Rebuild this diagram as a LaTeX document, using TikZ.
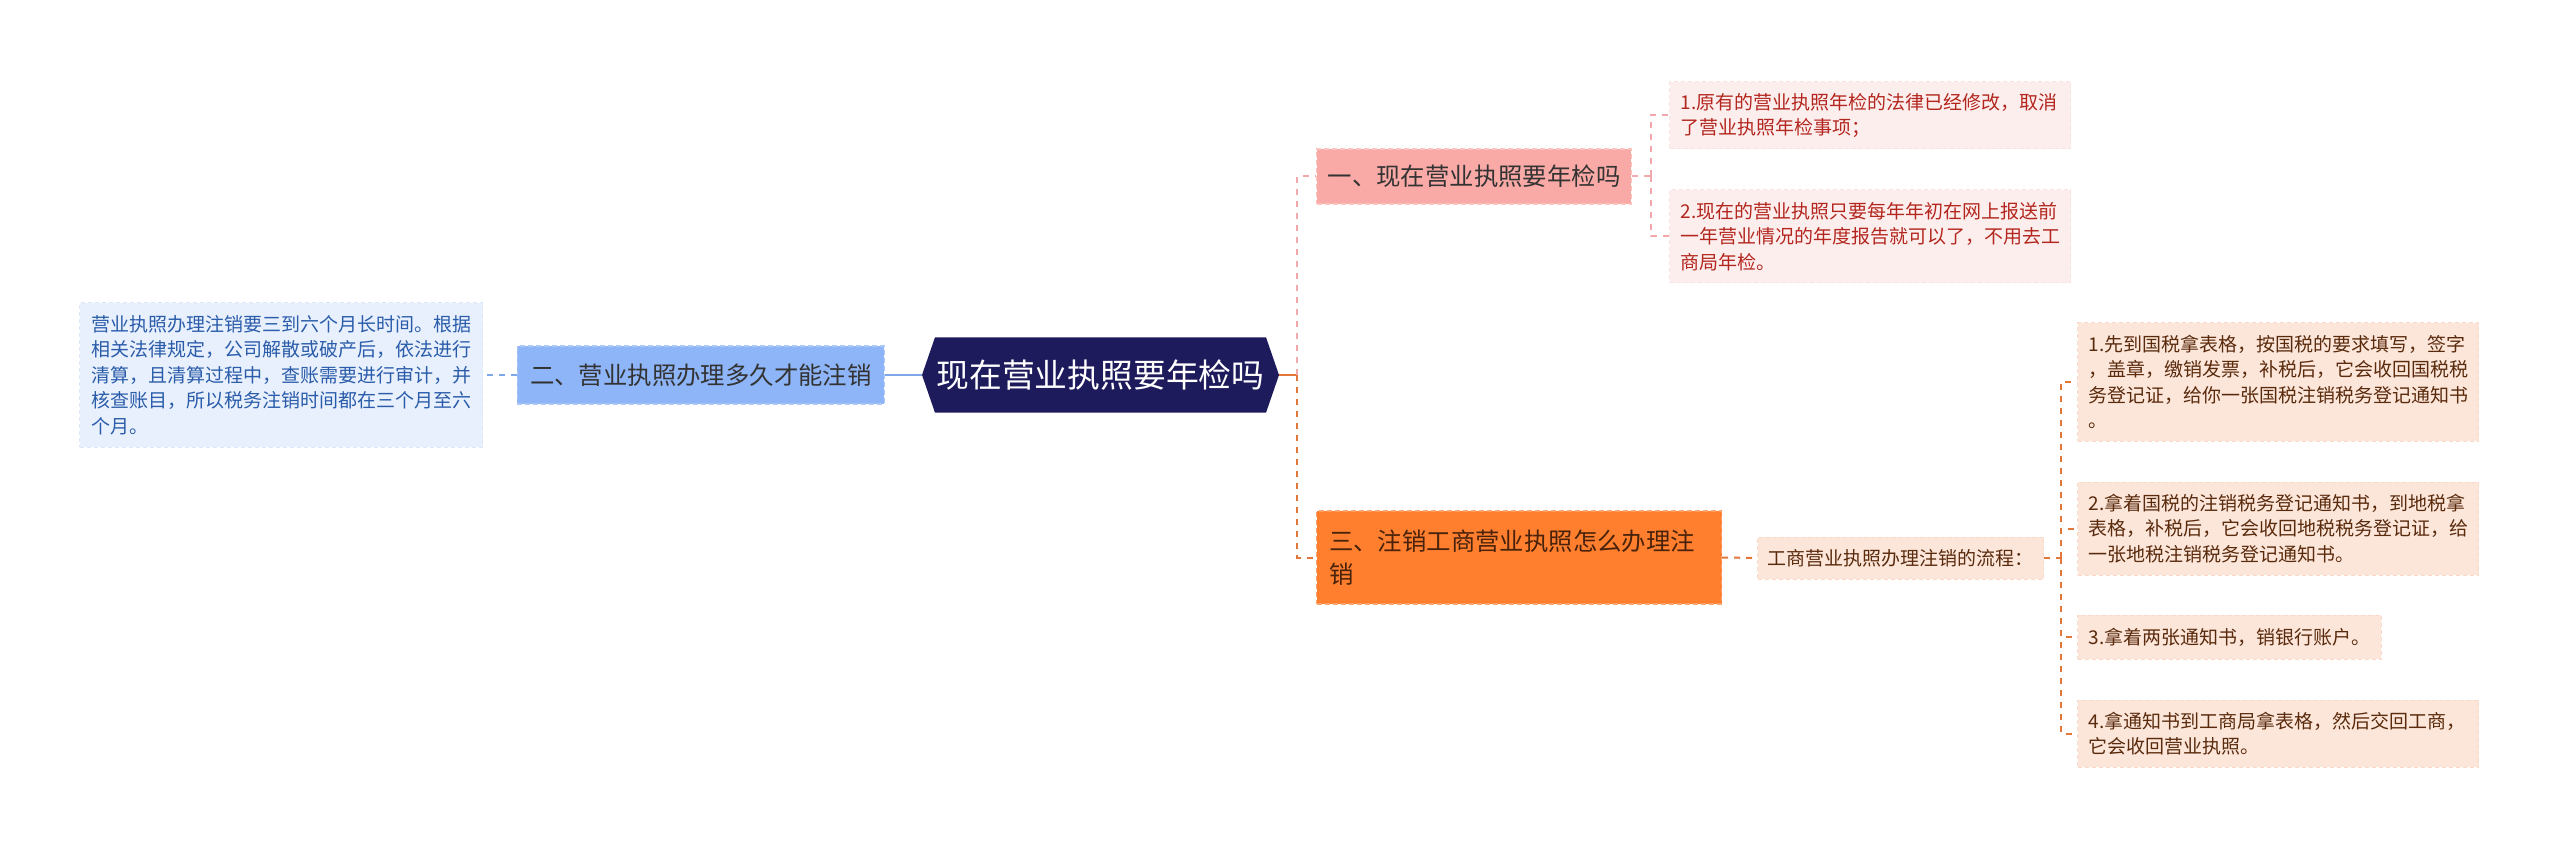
\documentclass[tikz,border=0pt]{standalone}
\usepackage{fontspec}
\setmainfont{Noto Sans CJK SC}
\usetikzlibrary{positioning,calc,shapes.symbols}
\definecolor{RootFill}{HTML}{1E1B5C}
\definecolor{TopicText}{HTML}{333333}
\definecolor{PinkTopic}{HTML}{F9AAA6}
\definecolor{PinkEdge}{HTML}{FBC4C1}
\definecolor{PinkLeaf}{HTML}{FDEEEE}
\definecolor{PinkLeafEdge}{HTML}{FBE2E2}
\definecolor{PinkText}{HTML}{B3261E}
\definecolor{PinkLink}{HTML}{F2A9AC}
\definecolor{BlueTopic}{HTML}{8EB5F8}
\definecolor{BlueEdge}{HTML}{ADC9F8}
\definecolor{BlueLeaf}{HTML}{E8F0FD}
\definecolor{BlueLeafEdge}{HTML}{DCE7FA}
\definecolor{BlueText}{HTML}{2A5CAA}
\definecolor{BlueLink}{HTML}{7FA6E8}
\definecolor{OrangeTopic}{HTML}{FF7F2F}
\definecolor{OrangeEdge}{HTML}{FBA56C}
\definecolor{OrangeLeaf}{HTML}{FCE6DA}
\definecolor{OrangeLeafEdge}{HTML}{F9DACA}
\definecolor{OrangeText}{HTML}{5A2A0C}
\definecolor{OrangeLink}{HTML}{E2773A}
\tikzset{root/.style={signal,signal to=east and west,signal pointer angle=142,
 fill=RootFill,text=white,font=\fontsize{16.4}{20}\selectfont,minimum width=178.5pt,
 minimum height=37.5pt,inner sep=0pt},
 topic/.style={draw,dash pattern=on 2.5pt off 1.5pt,line width=.6pt,text=TopicText,
 font=\fontsize{12.2}{16.5}\selectfont,inner xsep=5.5pt,align=left},
 leaf/.style={draw,dash pattern=on 2pt off 1.5pt,line width=.5pt,
 font=\fontsize{9.5}{12.75}\selectfont,inner xsep=5.5pt,inner ysep=0pt,align=left},
 link/.style={line width=1pt,dash pattern=on 3pt off 3pt}}
\begin{document}
\begin{tikzpicture}[x=1pt,y=1pt]
\useasboundingbox (0,0) rectangle (1280,-425);
% centre
\node[root] (root) at (550.25,-187.5) {现在营业执照要年检吗};
% topic one
\node[topic,fill=PinkTopic,draw=PinkEdge,minimum width=157pt,minimum height=27.5pt,anchor=west] (yearCheck) at (658,-88.25) {一、现在营业执照要年检吗};
\node[leaf,fill=PinkLeaf,draw=PinkLeafEdge,text=PinkText,text width=189.5pt,minimum height=33.5pt,anchor=west] (lawChanged) at (834.5,-57.75) {1.原有的营业执照年检的法律已经修改，取消\\了营业执照年检事项；};
\node[leaf,fill=PinkLeaf,draw=PinkLeafEdge,text=PinkText,text width=189.5pt,minimum height=46.5pt,anchor=west] (annualReport) at (834.5,-118.25) {2.现在的营业执照只要每年年初在网上报送前\\一年营业情况的年度报告就可以了，不用去工\\商局年检。};
% topic two
\node[topic,fill=BlueTopic,draw=BlueEdge,inner xsep=6pt,minimum width=183.5pt,minimum height=29pt,anchor=east] (howLong) at (442.5,-187.5) {二、营业执照办理多久才能注销};
\node[leaf,fill=BlueLeaf,draw=BlueLeafEdge,text=BlueText,inner xsep=6pt,text width=189.5pt,minimum height=72pt,anchor=east] (timeSpan) at (241.5,-187.5) {营业执照办理注销要三到六个月长时间。根据\\相关法律规定，公司解散或破产后，依法进行\\清算，且清算过程中，查账需要进行审计，并\\核查账目，所以税务注销时间都在三个月至六\\个月。};
% topic three
\node[topic,fill=OrangeTopic,draw=OrangeEdge,text=OrangeText!80!black,inner xsep=6.25pt,text width=190pt,minimum height=46.5pt,anchor=west] (cancelHow) at (658,-278.75) {三、注销工商营业执照怎么办理注\\销};
\node[leaf,fill=OrangeLeaf,draw=OrangeLeafEdge,text=OrangeText,inner xsep=5pt,minimum height=21pt,anchor=west] (process) at (878.5,-279) {工商营业执照办理注销的流程：};
\node[leaf,fill=OrangeLeaf,draw=OrangeLeafEdge,text=OrangeText,text width=189.5pt,minimum height=59pt,anchor=west] (stepOne) at (1038.5,-191) {1.先到国税拿表格，按国税的要求填写，签字\\，盖章，缴销发票，补税后，它会收回国税税\\务登记证，给你一张国税注销税务登记通知书\\。};
\node[leaf,fill=OrangeLeaf,draw=OrangeLeafEdge,text=OrangeText,text width=189.5pt,minimum height=46.5pt,anchor=west] (stepTwo) at (1038.5,-264.25) {2.拿着国税的注销税务登记通知书，到地税拿\\表格，补税后，它会收回地税税务登记证，给\\一张地税注销税务登记通知书。};
\node[leaf,fill=OrangeLeaf,draw=OrangeLeafEdge,text=OrangeText,minimum height=22pt,anchor=west] (stepThree) at (1038.5,-318.5) {3.拿着两张通知书，销银行账户。};
\node[leaf,fill=OrangeLeaf,draw=OrangeLeafEdge,text=OrangeText,text width=189.5pt,minimum height=33.5pt,anchor=west] (stepFour) at (1038.5,-366.75) {4.拿通知书到工商局拿表格，然后交回工商，\\它会收回营业执照。};
% links
\coordinate (hub) at ($(root.east)+(9,0)$);
\draw[OrangeLink,line width=1pt] (root.east) -- (hub);
\draw[link,PinkLink] (hub) |- (yearCheck.west);
\draw[link,OrangeLink] (hub) |- (cancelHow.west);
\draw[BlueLink,line width=1pt] (root.west) -- (howLong.east);
\draw[link,BlueLink] (howLong.west) -- (timeSpan.east);
\coordinate (pinkHub) at ($(yearCheck.east)+(9.5,0)$);
\draw[link,PinkLink] (yearCheck.east) -- (pinkHub);
\foreach \n in {lawChanged,annualReport}
 \draw[link,PinkLink] (pinkHub) |- (\n.west);
\draw[link,OrangeLink] (cancelHow.east) -- (process.west);
\coordinate (stepHub) at ($(process.east)+(8.5,0)$);
\draw[link,OrangeLink] (process.east) -- (stepHub);
\foreach \n in {stepOne,stepTwo,stepThree,stepFour}
 \draw[link,OrangeLink] (stepHub) |- (\n.west);
\end{tikzpicture}
\end{document}
